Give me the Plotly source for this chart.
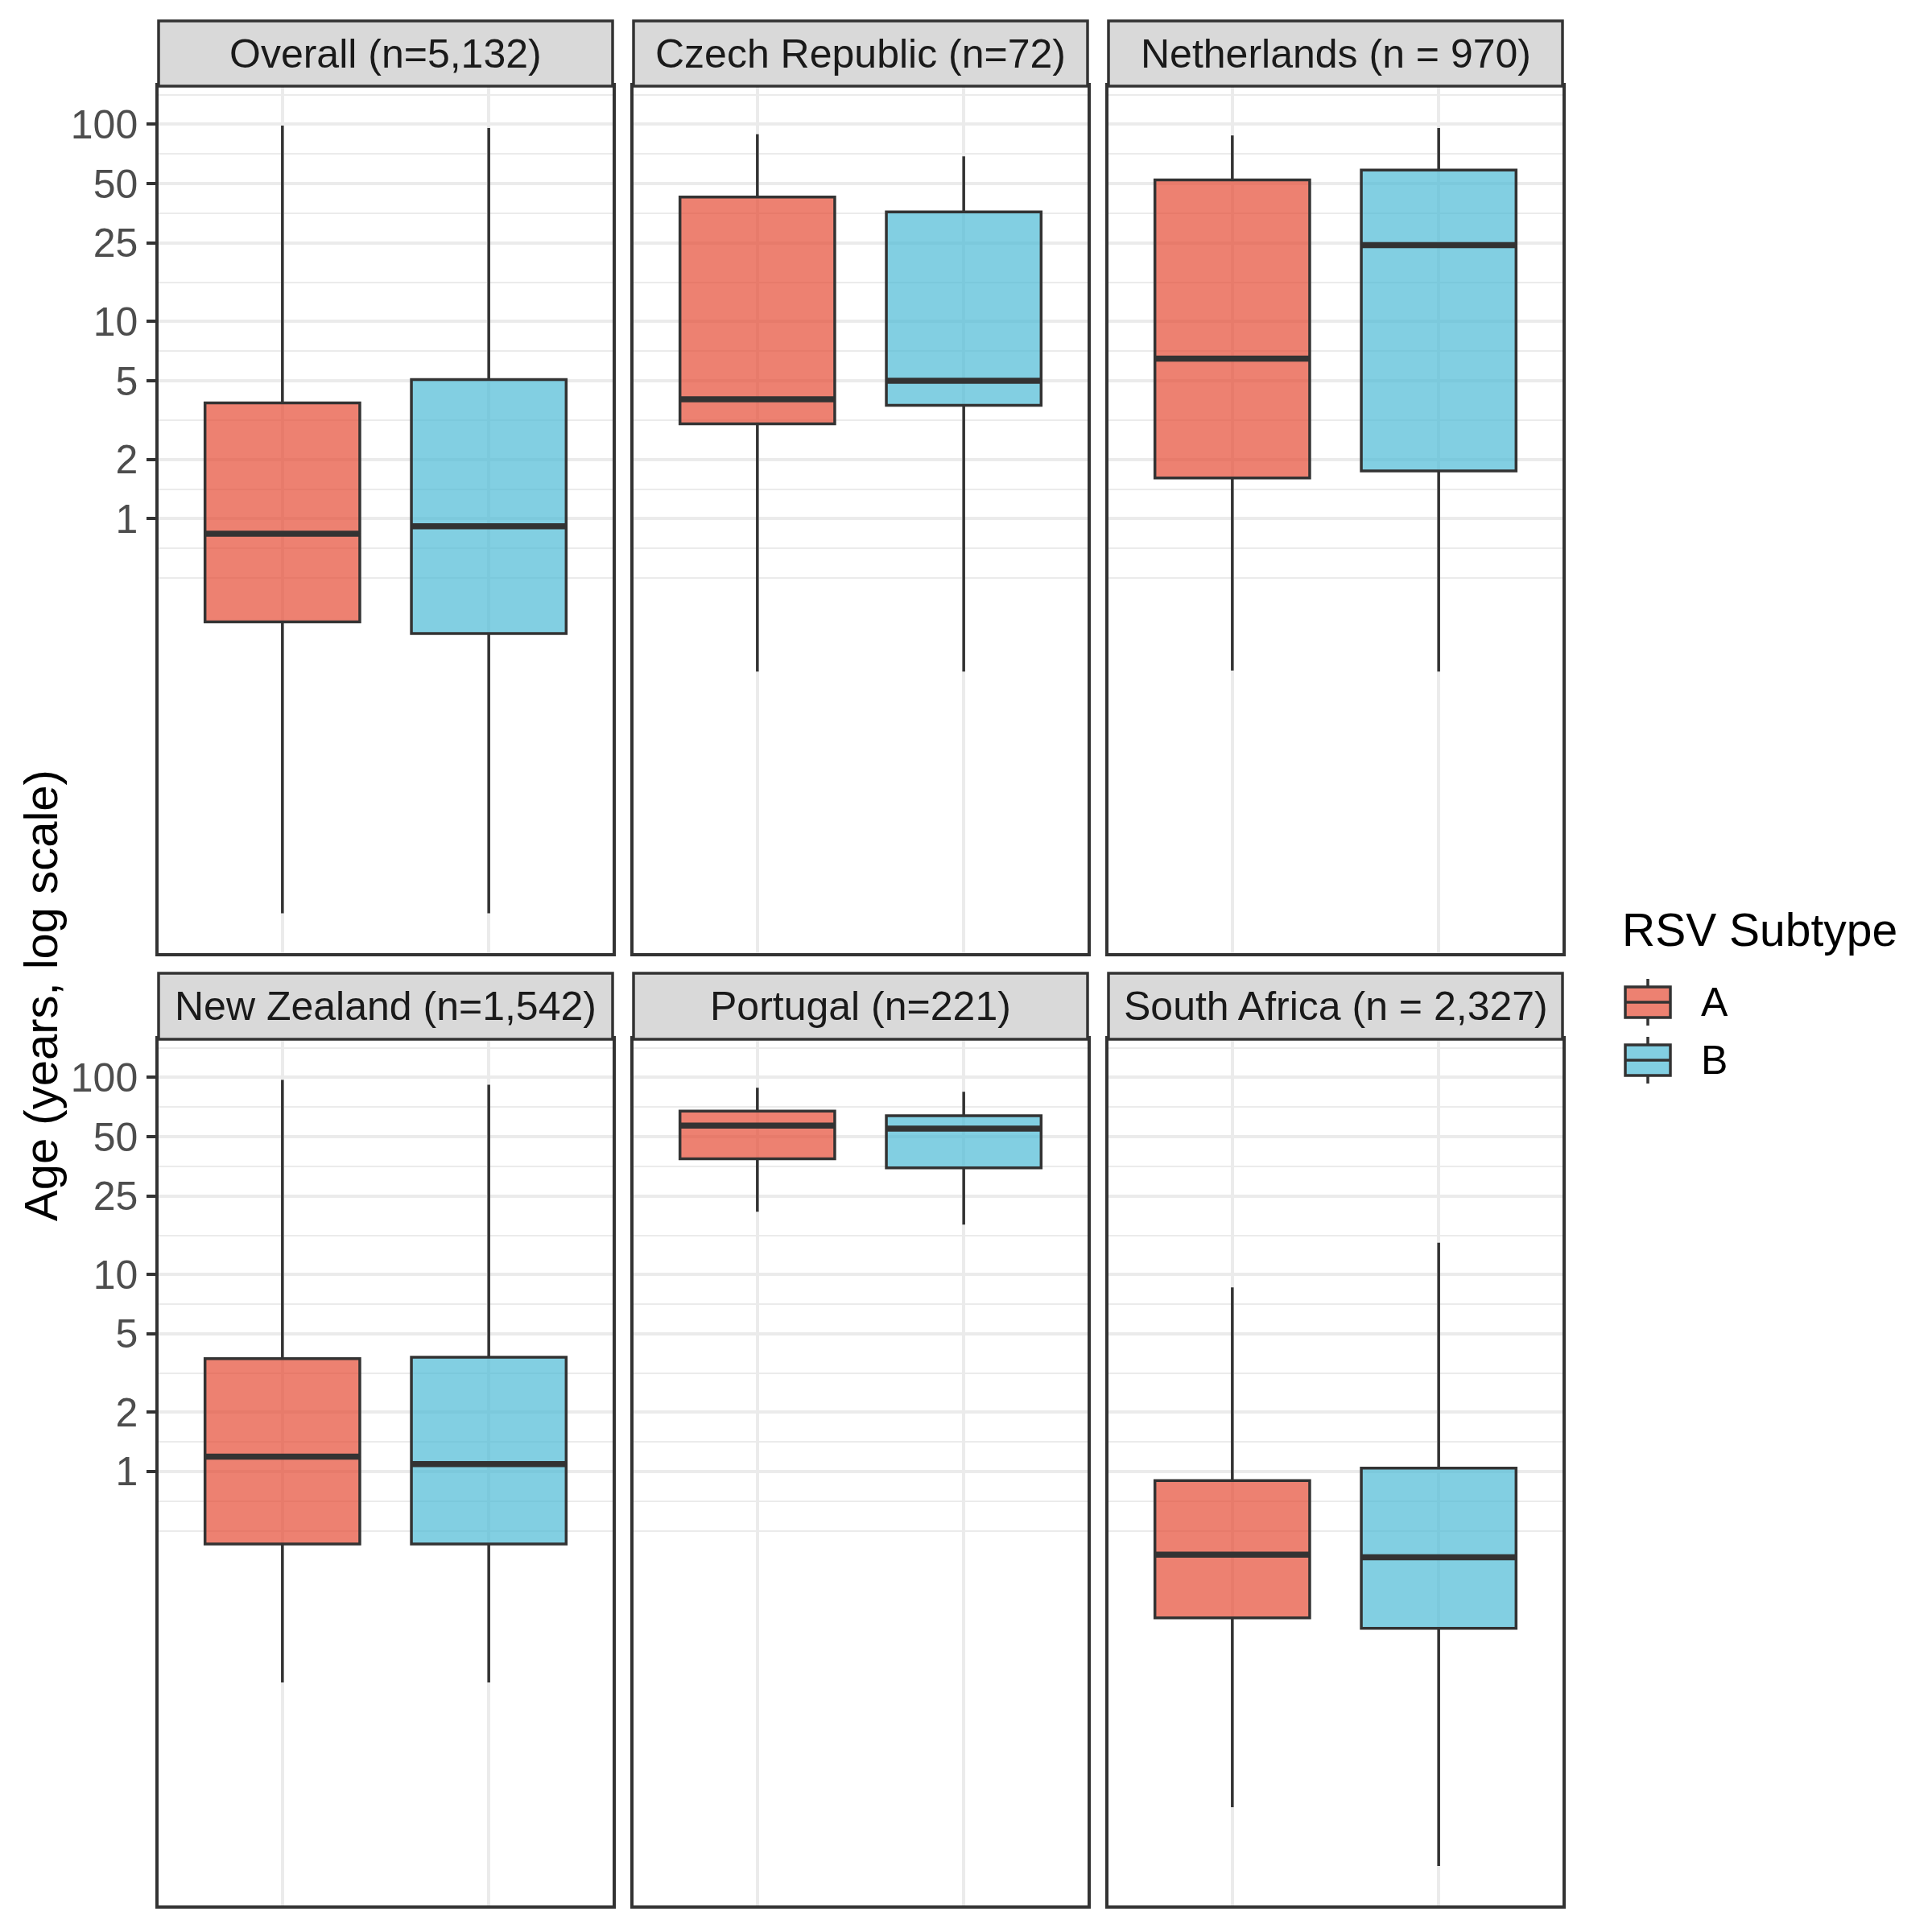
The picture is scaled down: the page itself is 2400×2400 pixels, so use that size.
import math
import plotly.graph_objects as go

# facet labels (ggplot facet_wrap, 3 columns)
panels = ["Overall (n=5,132)", "Czech Republic (n=72)", "Netherlands (n = 970)",
          "New Zealand (n=1,542)", "Portugal (n=221)", "South Africa (n = 2,327)"]
subtypes = ["A", "B"]

# box statistics (years)
a_low = [0.010, 0.168, 0.170, 0.085, 20.8, 0.0198]
a_q1 = [0.30, 3.03, 1.61, 0.429, 38.6, 0.181]
a_med = [0.84, 4.04, 6.49, 1.19, 57.0, 0.379]
a_q3 = [3.87, 42.8, 52.3, 3.74, 67.5, 0.90]
a_high = [98.6, 89.0, 87.9, 97.2, 88.7, 8.6]

b_low = [0.010, 0.168, 0.168, 0.085, 17.9, 0.00995]
b_q1 = [0.262, 3.76, 1.75, 0.429, 34.8, 0.160]
b_med = [0.917, 5.01, 24.4, 1.09, 55.0, 0.367]
b_q3 = [5.08, 36.0, 58.7, 3.80, 63.9, 1.04]
b_high = [95.8, 68.8, 95.8, 91.8, 84.6, 14.5]

y_ticks = [1, 2, 5, 10, 25, 50, 100]
y_minor = [0.5, 0.7071, 1.414, 3.162, 7.071, 15.81, 35.36, 70.71, 141.4]

W = H = 2400
OFF = 5  # page margin of the html body, so pixel positions land where intended
FONT = "Liberation Sans, Arial, sans-serif"
DARK = "#333333"
GRID = "#EBEBEB"
fills = {"A": "rgba(230,75,53,0.7)", "B": "rgba(77,187,213,0.7)"}
BOX_W = 0.75
LW = 3.5

# panel geometry in pixels
cols = [(194, 758), (784, 1348), (1374, 1938)]
rows = [(104, 1181), (1288, 2364)]
strips = [(23, 104), (1206, 1288)]


def px(v):
    return (v - OFF) / W


def py(v):
    return 1 - (v - OFF) / H


lo = math.log10(min(a_low + b_low))
hi = math.log10(max(a_high + b_high))
pad = 0.05 * (hi - lo)
y_range = [lo - pad, hi + pad]

stats = {
    "A": (a_low, a_q1, a_med, a_q3, a_high),
    "B": (b_low, b_q1, b_med, b_q3, b_high),
}

fig = go.Figure()
layout = dict(width=W, height=H, margin=dict(l=0, r=0, t=0, b=0),
              plot_bgcolor="white", paper_bgcolor="white",
              font=dict(family=FONT, size=50, color="black"),
              showlegend=False)
shapes = []
annotations = []

for i, name in enumerate(panels):
    r, c = divmod(i, 3)
    k = "" if i == 0 else str(i + 1)
    xa, ya = "x" + k, "y" + k
    x0, x1 = cols[c]
    y0, y1 = rows[r]

    layout["xaxis" + k] = dict(
        domain=[px(x0), px(x1)], anchor=ya, range=[0.4, 2.6],
        tickmode="array", tickvals=[1, 2], showticklabels=False, ticks="",
        showgrid=True, gridcolor=GRID, gridwidth=3.5, zeroline=False,
        showline=True, mirror=True, linecolor=DARK, linewidth=LW)
    layout["yaxis" + k] = dict(
        domain=[py(y1), py(y0)], anchor=xa, type="log", range=y_range,
        tickmode="array", tickvals=y_ticks, ticktext=[str(t) for t in y_ticks],
        showticklabels=(c == 0), ticks="outside" if c == 0 else "",
        ticklen=11, tickwidth=LW, tickcolor=DARK, ticklabelstandoff=1,
        tickfont=dict(size=50, color="#4D4D4D", family=FONT),
        showgrid=True, gridcolor=GRID, gridwidth=3.5, zeroline=False,
        minor=dict(tickmode="array", tickvals=y_minor, showgrid=True,
                   gridcolor=GRID, gridwidth=1.8, ticks=""),
        showline=True, mirror=True, linecolor=DARK, linewidth=LW)

    for j, s in enumerate(subtypes):
        low, q1, med, q3, high = stats[s]
        pos = j + 1
        fig.add_trace(go.Box(
            x=[pos], q1=[q1[i]], median=[med[i]], q3=[q3[i]],
            lowerfence=[low[i]], upperfence=[high[i]],
            width=BOX_W, whiskerwidth=0, boxpoints=False,
            fillcolor=fills[s], line=dict(color=DARK, width=LW),
            name=s, xaxis=xa, yaxis=ya, hoverinfo="skip"))
        # ggplot draws the median about twice as thick as the outline
        fig.add_trace(go.Scatter(
            x=[pos - BOX_W / 2, pos + BOX_W / 2], y=[med[i], med[i]],
            mode="lines", line=dict(color=DARK, width=7.5),
            xaxis=xa, yaxis=ya, hoverinfo="skip"))

    s0, s1 = strips[r]
    shapes.append(dict(type="rect", xref="paper", yref="paper",
                       x0=px(x0), x1=px(x1), y0=py(s1), y1=py(s0),
                       fillcolor="#D9D9D9", line=dict(color=DARK, width=LW),
                       layer="above"))
    annotations.append(dict(text=name, xref="paper", yref="paper",
                            x=px((x0 + x1) / 2), y=py((s0 + s1) / 2),
                            xanchor="center", yanchor="middle", showarrow=False,
                            font=dict(size=50, color="#1A1A1A", family=FONT)))

# y-axis title
annotations.append(dict(text="Age (years, log scale)", xref="paper", yref="paper",
                        x=px(47), y=py(1234), textangle=-90, showarrow=False,
                        xanchor="center", yanchor="middle",
                        font=dict(size=58, color="black", family=FONT)))

# legend drawn by hand so the keys look like ggplot's box glyphs
annotations.append(dict(text="RSV Subtype", xref="paper", yref="paper",
                        x=px(2010), y=py(1152), xanchor="left", yanchor="middle",
                        showarrow=False, font=dict(size=57, color="black", family=FONT)))
key_rows = {"A": 1242, "B": 1314}
for s in subtypes:
    cy = key_rows[s]
    kx0, kx1 = 2016, 2072
    kc = (kx0 + kx1) / 2
    shapes.append(dict(type="line", xref="paper", yref="paper",
                       x0=px(kc), x1=px(kc), y0=py(cy - 29), y1=py(cy + 29),
                       line=dict(color=DARK, width=LW)))
    shapes.append(dict(type="rect", xref="paper", yref="paper",
                       x0=px(kx0), x1=px(kx1), y0=py(cy + 19), y1=py(cy - 19),
                       fillcolor="white", line=dict(width=0)))
    shapes.append(dict(type="rect", xref="paper", yref="paper",
                       x0=px(kx0), x1=px(kx1), y0=py(cy + 19), y1=py(cy - 19),
                       fillcolor=fills[s], line=dict(color=DARK, width=LW)))
    shapes.append(dict(type="line", xref="paper", yref="paper",
                       x0=px(kx0), x1=px(kx1), y0=py(cy), y1=py(cy),
                       line=dict(color=DARK, width=LW)))
    annotations.append(dict(text=s, xref="paper", yref="paper",
                            x=px(2108), y=py(cy), xanchor="left", yanchor="middle",
                            showarrow=False, font=dict(size=50, color="black", family=FONT)))

layout["shapes"] = shapes
layout["annotations"] = annotations
fig.update_layout(**layout)

fig.write_html("out.html")
